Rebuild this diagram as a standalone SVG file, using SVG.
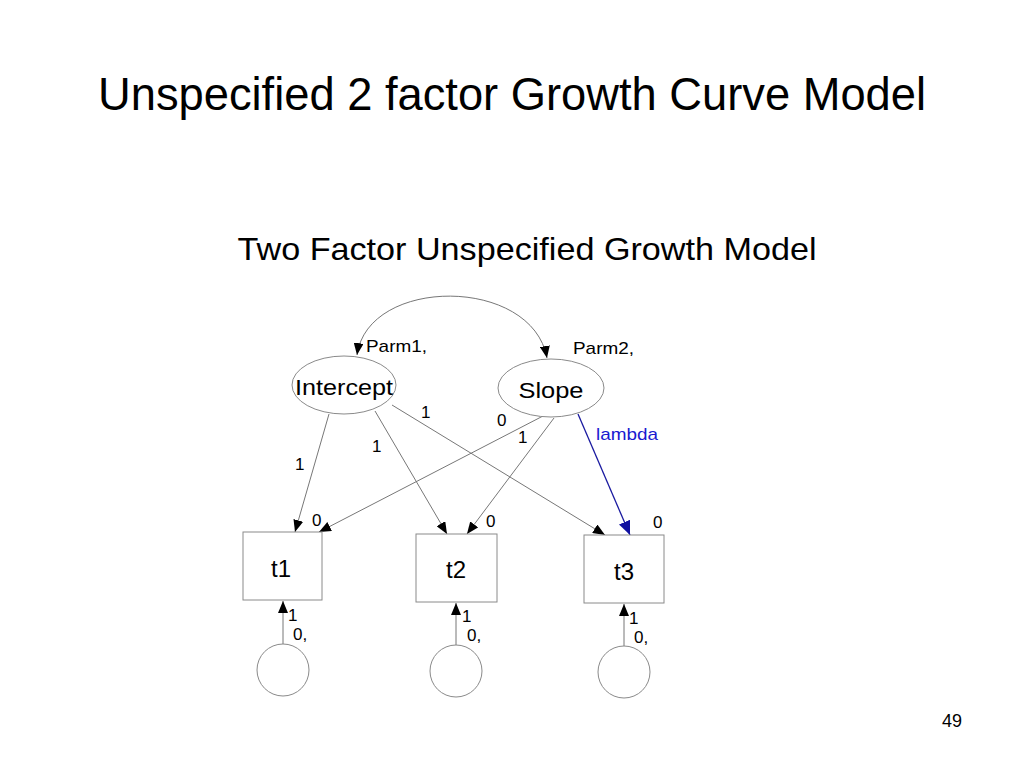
<svg xmlns="http://www.w3.org/2000/svg" width="1024" height="768" viewBox="0 0 1024 768">
<style>
text{font-family:"Liberation Sans",Arial,sans-serif;fill:#000}
.node{fill:#fff;stroke:#8a8a8a;stroke-width:1}
.edge{fill:none;stroke:#777;stroke-width:1}
.blue{fill:none;stroke:#1a1aa0;stroke-width:1.3}
.lbl{font-size:17px}
.nm{font-size:22px}
.tn{font-size:24px}
</style>
<defs>
<marker id="ah" viewBox="0 0 12 10" refX="12" refY="5" markerWidth="12" markerHeight="10" markerUnits="userSpaceOnUse" orient="auto-start-reverse">
<path d="M0,0 L12,5 L0,10 Z" fill="#000"/>
</marker>
<marker id="ahb" viewBox="0 0 14 12" refX="14" refY="6" markerWidth="14" markerHeight="12" markerUnits="userSpaceOnUse" orient="auto">
<path d="M0,0 L14,6 L0,12 Z" fill="#1010a0"/>
</marker>
</defs>
<rect width="1024" height="768" fill="#fff"/>
<text x="512" y="110" font-size="46" text-anchor="middle" textLength="828" lengthAdjust="spacingAndGlyphs">Unspecified 2 factor Growth Curve Model</text>
<text x="527" y="260" font-size="32" text-anchor="middle" textLength="579" lengthAdjust="spacingAndGlyphs">Two Factor Unspecified Growth Model</text>
<text x="962" y="727" font-size="18" text-anchor="end">49</text>

<g id="connectors">
<path class="edge" d="M357,355 C368,276 532,276 547,358" marker-start="url(#ah)" marker-end="url(#ah)"/>
<line class="edge" x1="329" y1="414" x2="295" y2="532" marker-end="url(#ah)"/>
<line class="edge" x1="375" y1="411" x2="447" y2="534" marker-end="url(#ah)"/>
<line class="edge" x1="392" y1="405" x2="605" y2="535" marker-end="url(#ah)"/>
<line class="edge" x1="543" y1="416" x2="319" y2="532" marker-end="url(#ah)"/>
<line class="edge" x1="554" y1="418" x2="467" y2="534" marker-end="url(#ah)"/>
<line class="blue" x1="578" y1="414" x2="630" y2="535" marker-end="url(#ahb)"/>
<line class="edge" x1="283" y1="644" x2="283" y2="601" marker-end="url(#ah)"/>
<line class="edge" x1="456" y1="645" x2="456" y2="603" marker-end="url(#ah)"/>
<line class="edge" x1="624" y1="647" x2="624" y2="604" marker-end="url(#ah)"/>
</g>
<g id="edge-labels">
<text class="lbl" x="366" y="352" textLength="61" lengthAdjust="spacingAndGlyphs">Parm1,</text>
<text class="lbl" x="573" y="354" textLength="61" lengthAdjust="spacingAndGlyphs">Parm2,</text>
<text class="lbl" x="295" y="470">1</text>
<text class="lbl" x="372" y="452">1</text>
<text class="lbl" x="421" y="418">1</text>
<text class="lbl" x="497" y="426">0</text>
<text class="lbl" x="518" y="443">1</text>
<text class="lbl" x="596" y="440" textLength="62" lengthAdjust="spacingAndGlyphs" style="fill:#1a1ad0">lambda</text>
<text class="lbl" x="312" y="526">0</text>
<text class="lbl" x="486" y="527">0</text>
<text class="lbl" x="653" y="528">0</text>
<text class="lbl" x="288" y="621">1</text>
<text class="lbl" x="293" y="640">0,</text>
<text class="lbl" x="462" y="622">1</text>
<text class="lbl" x="467" y="641">0,</text>
<text class="lbl" x="629" y="624">1</text>
<text class="lbl" x="634" y="643">0,</text>
</g>
<g id="intercept">
<ellipse class="node" cx="344" cy="385" rx="52" ry="29"/>
<text class="nm" x="344" y="395" text-anchor="middle" textLength="98" lengthAdjust="spacingAndGlyphs">Intercept</text>
</g>
<g id="slope">
<ellipse class="node" cx="551" cy="388" rx="53" ry="29"/>
<text class="nm" x="551" y="398" text-anchor="middle" textLength="65" lengthAdjust="spacingAndGlyphs">Slope</text>
</g>
<g id="t1">
<rect class="node" x="243" y="532" width="79" height="68"/>
<text class="tn" x="281" y="577" text-anchor="middle">t1</text>
</g>
<g id="t2">
<rect class="node" x="416" y="534" width="81" height="68"/>
<text class="tn" x="456" y="578" text-anchor="middle">t2</text>
</g>
<g id="t3">
<rect class="node" x="584" y="535" width="80" height="68"/>
<text class="tn" x="624" y="580" text-anchor="middle">t3</text>
</g>
<g id="e1"><circle class="node" cx="283" cy="670" r="26"/></g>
<g id="e2"><circle class="node" cx="456" cy="671" r="26"/></g>
<g id="e3"><circle class="node" cx="624" cy="672" r="26"/></g>
</svg>
